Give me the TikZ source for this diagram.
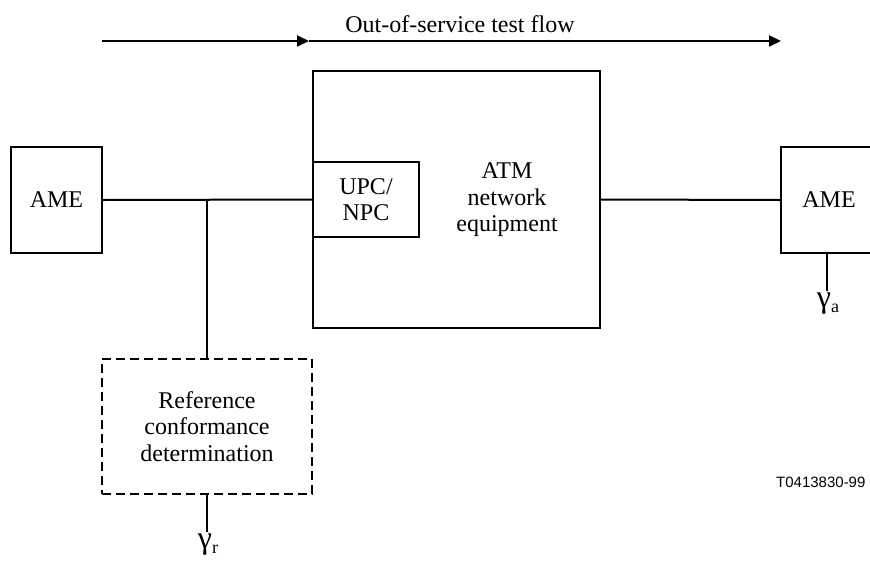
\documentclass[tikz,border=0pt]{standalone}
\usepackage{fontspec}
\setmainfont{Liberation Serif}
\newfontfamily\figsans{Liberation Sans}
\usetikzlibrary{arrows.meta}
\begin{document}
\begin{tikzpicture}[x=1pt,y=-1pt,
  box/.style={draw, line width=1.3pt, inner sep=0pt, align=center,
    font=\fontsize{24}{26.5}\selectfont},
  dashbox/.style={box, dash pattern=on 9pt off 5pt, line width=1.5pt},
  link/.style={line width=2pt},
  flow/.style={line width=2pt, -{Triangle[length=12pt,width=11pt]}},
  lbl/.style={inner sep=0pt, align=center, font=\fontsize{24}{26.5}\selectfont},
  gam/.style={inner sep=0pt, anchor=north, font=\fontsize{32}{32}\selectfont}
]
\useasboundingbox (0,0) rectangle (870,563);

% test flow arrow along the top
\coordinate (flowA) at (102,41);
\coordinate (flowB) at (309,41);
\coordinate (flowC) at (781,41);
\draw[flow] (flowA) -- (flowB);
\draw[flow] (flowB) -- (flowC);
\node[lbl] (flowlbl) at (460,24) {Out-of-service test flow};

% equipment boxes
\node[box, minimum width=91pt, minimum height=106pt] (ameL) at (56.5,200) {AME};
\node[box, minimum width=287pt, minimum height=257pt] (atm) at (456.5,199.5) {};
\node[lbl] (atmlbl) at (507,200) {ATM\\network\\equipment};
\node[box, minimum width=106pt, minimum height=75pt] (upc) at (366,199.5) {UPC/\\NPC};
\node[box, minimum width=92pt, minimum height=106pt] (ameR) at (827,200) {\hspace*{4pt}AME};
\node[dashbox, minimum width=210pt, minimum height=135pt] (rcd) at (207,426.5)
  {Reference\\conformance\\determination};

% connections
\coordinate (tap) at (207,200);
\draw[link] (ameL.east) -- (upc.west);
\draw[link] (tap) -- (rcd.north);
\draw[link] (atm.east) -- (ameR.west);

% measurement outputs
\coordinate (gaEnd) at (827,291);
\draw[link] (ameR.south) -- (gaEnd);
\node[gam] (ga) at ([xshift=1pt,yshift=-2pt]gaEnd) {γ\raisebox{-0.3ex}{\fontsize{18}{18}\selectfont a}};
\coordinate (grEnd) at (207,532);
\draw[link] (rcd.south) -- (grEnd);
\node[gam] (gr) at ([xshift=1pt,yshift=-2pt]grEnd) {γ\raisebox{-0.3ex}{\fontsize{18}{18}\selectfont r}};

% figure reference
\node[anchor=west, inner sep=0pt, font=\figsans\fontsize{15}{15}\selectfont] (figid) at (776,482) {T0413830-99};
\end{tikzpicture}
\end{document}
